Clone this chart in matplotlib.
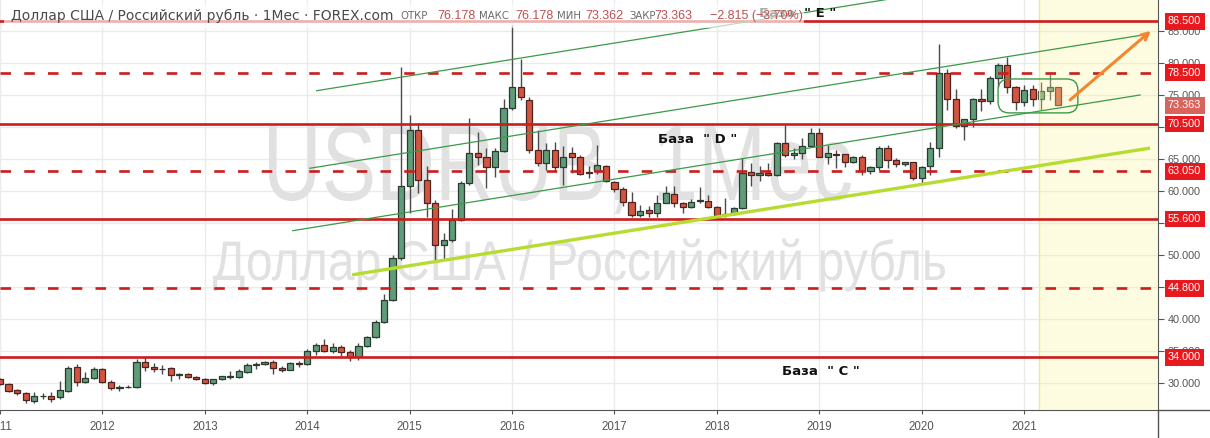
import numpy as np
import pandas as pd
import matplotlib
matplotlib.use("Agg")
import matplotlib.pyplot as plt
import matplotlib.transforms as mtransforms
from matplotlib.patches import FancyBboxPatch, Rectangle, PathPatch
from matplotlib.lines import Line2D
from matplotlib.textpath import TextPath
from matplotlib.font_manager import FontProperties

# USD/RUB monthly candles, Jan 2011 .. May 2021
months = pd.date_range("2011-01-01", periods=125, freq="MS")
opens = [30.57, 29.84, 28.90, 28.45, 27.24, 27.90, 27.97, 27.80, 28.80, 32.55, 30.20, 30.73,
         32.14, 30.20, 29.20, 29.30, 29.32, 33.33, 32.45, 32.14, 32.29, 31.30, 31.41, 30.89,
         30.57, 29.95, 30.57, 31.00, 30.99, 31.77, 32.85, 32.92, 33.23, 32.40, 32.08, 33.10,
         32.92, 35.05, 35.88, 35.05, 35.57, 34.90, 34.11, 35.78, 37.14, 39.58, 42.97, 49.48,
         60.78, 69.53, 61.72, 58.18, 51.56, 52.34, 55.47, 61.30, 65.89, 65.26, 63.80, 66.30,
         72.92, 76.20, 74.20, 66.40, 64.42, 66.40, 63.70, 65.89, 65.26, 62.90, 63.18, 63.91,
         61.46, 60.26, 58.33, 56.25, 57.03, 56.61, 58.18, 59.53, 58.07, 57.55, 58.45, 58.49,
         57.55, 56.35, 56.41, 57.29, 63.02, 62.50, 62.76, 62.50, 67.45, 65.63, 65.89, 67.03,
         69.11, 65.36, 65.73, 65.73, 64.58, 65.36, 63.18, 63.70, 66.67, 64.84, 64.17, 64.48,
         61.98, 63.90, 66.70, 78.50, 74.30, 70.20, 71.20, 74.40, 74.00, 77.60, 79.70, 76.30,
         73.95, 76.00, 74.30, 75.60, 76.178]
highs = [30.80, 30.05, 29.05, 28.65, 28.65, 28.40, 28.60, 30.30, 32.66, 32.97, 31.77, 32.45,
         32.30, 30.47, 29.69, 29.70, 33.70, 34.11, 33.07, 32.76, 32.55, 31.60, 31.60, 31.10,
         30.73, 30.70, 31.15, 31.93, 32.14, 33.18, 33.33, 33.49, 33.59, 32.66, 33.23, 33.39,
         35.26, 36.20, 36.82, 36.20, 35.90, 35.16, 36.20, 37.35, 39.80, 43.85, 50.00, 79.30,
         71.88, 70.57, 63.91, 58.60, 53.39, 57.14, 61.60, 71.35, 69.28, 66.67, 66.67, 74.30,
         85.90, 80.67, 74.74, 69.53, 67.45, 67.70, 67.00, 66.82, 65.63, 63.91, 67.19, 64.06,
         61.61, 60.68, 59.90, 57.81, 57.66, 59.38, 60.83, 60.83, 58.33, 58.70, 60.57, 59.38,
         57.66, 58.85, 57.45, 65.10, 64.32, 63.91, 64.32, 67.71, 70.31, 66.67, 68.23, 69.79,
         69.79, 67.19, 66.41, 65.80, 65.47, 65.63, 63.91, 67.03, 67.19, 65.20, 64.60, 64.58,
         63.91, 67.70, 82.97, 79.00, 75.90, 71.30, 74.50, 76.00, 78.00, 80.00, 80.90, 76.40,
         76.60, 76.60, 77.00, 78.60, 76.178]
lows = [29.70, 28.60, 28.05, 26.93, 26.93, 27.55, 27.10, 27.45, 28.65, 29.53, 29.95, 30.57,
        29.95, 28.91, 28.80, 29.20, 29.16, 31.93, 31.77, 31.40, 30.37, 30.57, 30.73, 30.47,
        29.80, 29.64, 30.50, 30.68, 30.84, 31.51, 32.14, 32.81, 31.41, 31.77, 32.03, 32.45,
        32.81, 34.38, 34.90, 34.64, 34.22, 33.49, 33.59, 35.68, 36.98, 39.30, 42.80, 49.20,
        56.50, 59.64, 56.00, 49.22, 49.22, 52.08, 55.30, 60.90, 64.05, 60.53, 62.24, 66.15,
        72.70, 74.20, 65.99, 63.90, 63.28, 63.20, 60.90, 62.76, 62.50, 61.98, 62.66, 61.46,
        59.90, 57.66, 55.99, 55.99, 55.99, 55.99, 58.07, 57.55, 56.61, 57.29, 58.07, 57.29,
        55.57, 55.99, 56.25, 57.14, 60.83, 61.61, 62.40, 62.40, 65.36, 64.95, 64.95, 66.82,
        65.26, 64.22, 63.60, 63.70, 64.43, 62.50, 62.66, 63.28, 63.60, 63.80, 63.90, 61.72,
        61.20, 62.50, 65.30, 72.70, 69.80, 68.00, 70.05, 72.50, 73.60, 76.20, 75.30, 72.60,
        73.30, 73.30, 72.60, 74.20, 73.362]
closes = [29.84, 28.80, 28.40, 27.34, 27.97, 27.95, 27.50, 28.90, 32.34, 30.20, 30.73, 32.14,
          30.20, 29.16, 29.35, 29.40, 33.33, 32.45, 32.14, 32.25, 31.25, 31.40, 30.89, 30.57,
          29.95, 30.62, 31.04, 31.05, 31.88, 32.81, 32.92, 33.23, 32.40, 32.08, 33.07, 33.00,
          35.05, 35.88, 35.05, 35.57, 34.90, 34.11, 35.78, 37.14, 39.58, 42.97, 49.48, 60.78,
          69.53, 61.72, 58.18, 51.56, 52.34, 55.47, 61.30, 65.89, 65.26, 63.80, 66.30, 72.92,
          76.20, 74.74, 66.40, 64.42, 66.40, 63.70, 65.26, 65.26, 62.66, 62.80, 64.06, 61.61,
          60.26, 58.33, 56.25, 56.93, 56.61, 58.18, 59.64, 58.07, 57.55, 58.33, 58.50, 57.55,
          56.25, 56.45, 57.29, 62.86, 62.50, 62.76, 62.50, 67.45, 65.63, 65.89, 67.03, 69.11,
          65.36, 65.89, 65.68, 64.58, 65.36, 63.18, 63.70, 66.67, 64.84, 64.22, 64.48, 61.98,
          63.80, 66.70, 78.50, 74.30, 70.20, 71.20, 74.40, 74.00, 77.60, 79.70, 76.30, 73.95,
          75.80, 74.30, 75.60, 76.20, 73.363]

years = list(range(2011, 2022))
solid_levels = [86.5, 70.5, 55.6, 34.0]
dashed_levels = [78.5, 63.05, 44.8]
last_price = 73.363

# drawings (month index since Jan 2011, price)
channel_x = [(37.1, 104.0), (36.3, 134.5), (34.3, 133.6)]
channel_y = [(75.67, 89.94), (63.55, 84.50), (53.80, 75.00)]
support_x = (41.25, 134.75)
support_y = (46.9, 66.7)
arrow_x = (125.15, 135.1)
arrow_y = (73.95, 85.3)
box_x = (116.95, 126.3)
box_y = (72.2, 77.5)
future_start = 121.75
base_labels = ['База  " E "', 'База  " D "', 'База  " C "']
base_x = [93.5, 81.7, 96.2]
base_y = [87.8, 67.97, 31.72]

SANS = "Liberation Sans"
W, H = 1210, 438

fig = plt.figure(figsize=(W / 100, H / 100), dpi=100)
ax = fig.add_axes([0, 1 - 410 / H, 1158 / W, 410 / H])
ax.set_xlim(0, 135.69)
ax.set_ylim(25.78, 89.84)


def watermark(s, cx, baseline, cap_h, width):
    # narrow grey text like the TradingView watermark (pixel coords from top-left)
    tp = TextPath((0, 0), s, size=100, prop=FontProperties(family=SANS))
    ext = tp.get_extents()
    tr = (mtransforms.Affine2D().translate(-ext.x0 - ext.width / 2, 0)
          .scale(width / ext.width, cap_h / 71.6).translate(cx, H - baseline))
    ax.add_patch(PathPatch(tp, transform=tr, fc="#e1e1e1", ec="none", zorder=0.6))


watermark("USDRUB, 1Мес", 560, 200, 77, 582)
watermark("Доллар США / Российский рубль", 579, 280, 40, 732)

x = np.array([(d.year - 2011) * 12 + d.month - 1 for d in months])
o = np.array(opens)
h = np.array(highs)
l = np.array(lows)
c = np.array(closes)
up = c >= o

# wicks and bodies
ax.vlines(x, l, h, color="#4a4a4a", lw=1, zorder=1.5)
body_lo = np.minimum(o, c)
body_h = np.maximum(np.abs(c - o), 0.12)
ax.bar(x[up], body_h[up], bottom=body_lo[up], width=0.72, color="#5f9c77",
       edgecolor="#2a3a30", lw=0.9, zorder=2)
ax.bar(x[~up], body_h[~up], bottom=body_lo[~up], width=0.72, color="#d4553f",
       edgecolor="#4a2420", lw=0.9, zorder=2)

# grid / axes
ax.set_xticks([(yr - 2011) * 12 for yr in years])
ax.set_xticklabels([str(yr) for yr in years], family=SANS)
ax.set_yticks(np.arange(30, 90, 5))
ax.set_yticklabels(["%.3f" % v for v in np.arange(30, 90, 5)], family=SANS)
ax.yaxis.tick_right()
ax.set_axisbelow(True)
ax.grid(color="#ebebeb", lw=1)
ax.tick_params(axis="y", length=4, color="#555555", labelcolor="#555555", labelsize=7.8, pad=3)
ax.tick_params(axis="x", length=3, color="#555555", labelcolor="#555555", labelsize=8.3, pad=5)
for s in ["top", "left"]:
    ax.spines[s].set_visible(False)
for s in ["right", "bottom"]:
    ax.spines[s].set_color("#555555")

# future zone
ax.axvspan(future_start, 135.69, color="#fbf7a0", alpha=0.32, lw=0, zorder=3)
ax.axvline(future_start, color="#f2e88e", lw=1, zorder=3)

# levels
for v in solid_levels:
    ax.axhline(v, color="#cc1c1c", lw=1.9, zorder=4)
for v in dashed_levels:
    ax.axhline(v, color="#cc1c1c", lw=1.9, ls=(0, (4.0, 5.0)), zorder=4)

# channel + support
for xs, ys in zip(channel_x, channel_y):
    ax.plot(xs, ys, color="#3b9a48", lw=0.9, zorder=4)
ax.plot(support_x, support_y, color="#b6dc30", lw=2.4, solid_capstyle="butt", zorder=4)

box = FancyBboxPatch((box_x[0], box_y[0]), box_x[1] - box_x[0], box_y[1] - box_y[0],
                     boxstyle="round,pad=0,rounding_size=1.3", mutation_aspect=1.33,
                     fc="none", ec="#3b9a48", lw=1, zorder=4)
ax.add_patch(box)
ax.annotate("", xy=(arrow_x[1], arrow_y[1]), xytext=(arrow_x[0], arrow_y[0]),
            arrowprops=dict(arrowstyle="->", color="#f5862e", lw=2.2, mutation_scale=12),
            zorder=5)

for txt, bx, by in zip(base_labels, base_x, base_y):
    ax.text(bx, by, txt, ha="center", va="center", fontsize=9.5, fontweight="bold",
            color="#111111", zorder=6)

# price scale labels
trans = mtransforms.blended_transform_factory(ax.transAxes, ax.transData)
for v in solid_levels + dashed_levels:
    ax.text(1 + 10 / 1158, v, "%.3f" % v, transform=trans, ha="left", va="center",
            fontsize=7.8, color="white", family=SANS, clip_on=False, zorder=10,
            bbox=dict(boxstyle="square,pad=0.3", fc="#e8191e", ec="none"))
ax.text(1 + 10 / 1158, last_price, "%.3f" % last_price, transform=trans, ha="left",
        va="center", fontsize=7.8, color="white", family=SANS, clip_on=False, zorder=10,
        bbox=dict(boxstyle="square,pad=0.3", fc="#d8655b", ec="none"))

fig.add_artist(Line2D([1158 / W, 1], [1 - 410 / H] * 2, color="#555555", lw=1))
fig.add_artist(Line2D([1158 / W] * 2, [0, 1 - 410 / H], color="#555555", lw=1))

# legend row
fig.add_artist(Rectangle((4 / W, 1 - 28 / H), 800 / W, 24 / H, transform=fig.transFigure,
                         fc="white", ec="none", alpha=0.65, zorder=5))
ty = 1 - 16 / H
fig.text(11 / W, ty, "Доллар США / Российский рубль · 1Мес · FOREX.com", fontsize=10,
         color="#4a4a4a", va="center", zorder=6)
parts = [(400, "ОТКР", 437, "76.178"), (479, "МАКС", 515, "76.178"),
         (557, "МИН", 585, "73.362"), (629, "ЗАКР", 654, "73.363")]
for lx, lab, vx, val in parts:
    fig.text(lx / W, ty, lab, fontsize=7.3, color="#6a6a6a", va="center", zorder=6)
    fig.text(vx / W, ty, val, fontsize=9, color="#c0504d", va="center", family=SANS, zorder=6)
fig.text(710 / W, ty, "−2.815 (−3.70%)", fontsize=9, color="#c0504d", va="center",
         family=SANS, zorder=6)

fig.savefig("out.png", dpi=100)
